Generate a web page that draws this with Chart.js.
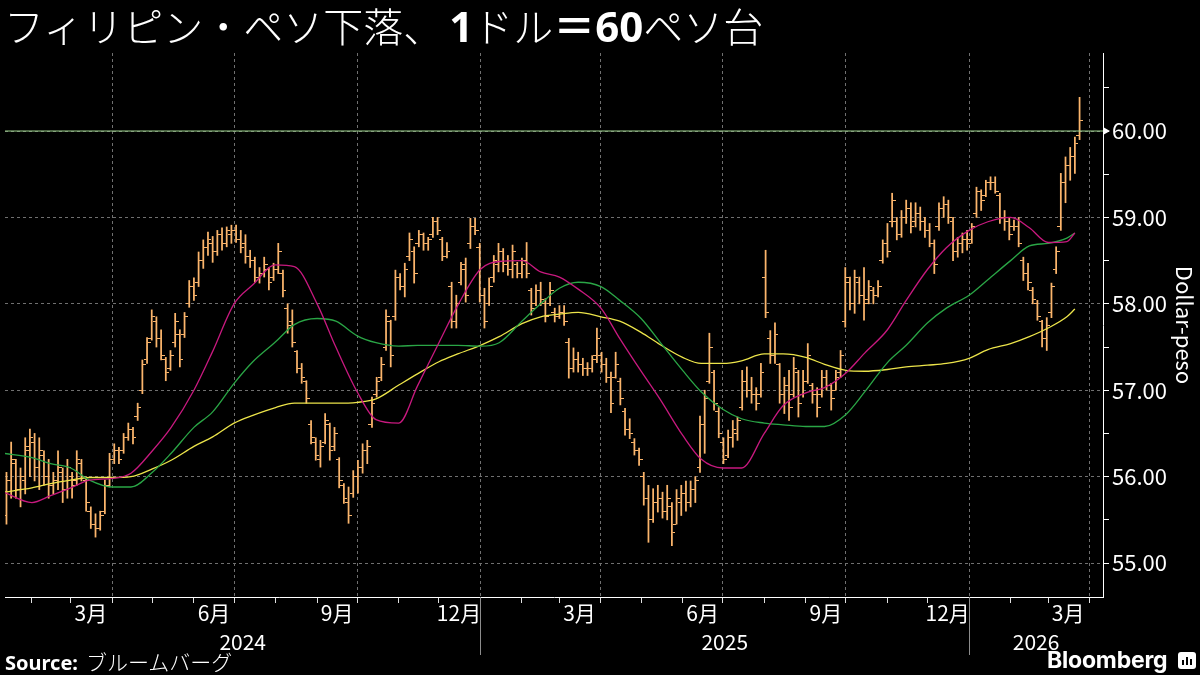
<!DOCTYPE html>
<html>
<head>
<meta charset="utf-8">
<script src="https://cdn.jsdelivr.net/npm/chart.js@4.4.1/dist/chart.umd.min.js"></script>
<style>
  html, body { margin: 0; padding: 0; background: #000; }
  #wrap { position: relative; width: 1200px; height: 675px; overflow: hidden; background: #000; }
  #chart { position: absolute; left: 0; top: 0; }
  .title { position: absolute; left: 4px; top: 3px; color: #fff; font-family: "Noto Sans CJK JP"; font-weight: 300;
           font-size: 40px; line-height: 44px; white-space: nowrap; }
  .title b { font-family: "Noto Sans", "Noto Sans CJK JP"; font-weight: 700; font-size: 42px; }
  .title b.one { margin-left: 6px; }
  .source { position: absolute; left: 5px; top: 647px; color: #fff; font-family: "Noto Sans CJK JP"; font-weight: 300;
            font-size: 21px; line-height: 28px; white-space: nowrap; }
  .source b { font-family: "Noto Sans"; font-weight: 700; font-size: 20px; margin-right: 8px; }
  .brand { position: absolute; left: 1047px; top: 645px; color: #fff; font-family: Inter, "Noto Sans"; font-weight: 700;
           font-size: 23px; line-height: 30px; letter-spacing: -0.2px; }
  .icon { position: absolute; left: 1178px; top: 652px; width: 18px; height: 17px; background: #fff; border-radius: 3px; }
  .icon i { position: absolute; bottom: 4px; width: 2px; background: #000; }
</style>
</head>
<body>
<div id="wrap">
  <canvas id="chart" width="1200" height="675"></canvas>
  <div class="title">フィリピン・ペソ下落、<b class="one">1</b>ドル<b>＝60</b>ペソ台</div>
  <div class="source"><b>Source:</b>ブルームバーグ</div>
  <div class="brand">Bloomberg</div>
  <div class="icon"><i style="left:4px;height:5px"></i><i style="left:8px;height:8px"></i><i style="left:12px;height:6px"></i></div>
</div>
<script>
// USD/PHP, two bars a week, days counted from 2024-01-01
const firstBarDay = 12;
const barStepDays = 3.5;

const barOpen = [
  55.55, 55.95, 56.15, 55.85, 55.95, 56.3, 56.4, 56.1, 56.25, 56.0,
  55.9, 55.95, 56.05, 55.85, 56.0, 55.95, 56.15, 55.95, 55.6, 55.45,
  55.4, 55.6, 55.9, 56.2, 56.3, 56.3, 56.45, 56.55, 56.7, 57.0,
  57.35, 57.6, 57.8, 57.6, 57.35, 57.25, 57.55, 57.65, 57.65, 58.0,
  58.2, 58.25, 58.5, 58.65, 58.7, 58.6, 58.8, 58.7, 58.8, 58.85,
  58.75, 58.7, 58.55, 58.5, 58.3, 58.35, 58.4, 58.3, 58.4, 58.35,
  57.95, 57.8, 57.45, 57.25, 57.1, 56.6, 56.4, 56.2, 56.4, 56.6,
  56.35, 56.2, 55.9, 55.7, 55.8, 56.0, 56.1, 56.3, 56.6, 56.95,
  57.15, 57.5, 57.8, 57.85, 58.3, 58.2, 58.55, 58.6, 58.7, 58.8,
  58.7, 58.8, 58.95, 58.75, 58.55, 58.2, 57.8, 58.25, 58.45, 58.7,
  58.9, 58.65, 58.1, 58.0, 58.3, 58.45, 58.6, 58.45, 58.4, 58.45,
  58.35, 58.5, 58.15, 58.0, 58.15, 58.0, 58.0, 57.9, 57.85, 57.9,
  57.55, 57.25, 57.35, 57.3, 57.25, 57.25, 57.4, 57.4, 57.3, 57.15,
  57.15, 57.1, 56.75, 56.55, 56.4, 56.3, 56.0, 55.75, 55.5, 55.7,
  55.75, 55.6, 55.65, 55.45, 55.7, 55.8, 55.7, 55.85, 56.1, 56.6,
  57.1, 57.2, 56.75, 56.4, 56.25, 56.45, 56.5, 56.8, 57.1, 57.0,
  56.95, 56.95, 58.3, 57.6, 57.4, 57.3, 56.95, 57.05, 56.95, 57.2,
  56.95, 57.1, 57.05, 56.95, 56.95, 57.15, 57.05, 57.0, 57.2, 57.8,
  58.25, 58.0, 58.25, 58.1, 58.05, 58.15, 58.1, 58.5, 58.7, 58.95,
  58.95, 58.8, 59.0, 59.1, 58.95, 59.05, 58.95, 58.85, 58.7, 58.9,
  59.1, 59.15, 58.95, 58.6, 58.7, 58.75, 58.75, 59.05, 59.3, 59.25,
  59.4, 59.4, 59.25, 59.0, 58.95, 58.9, 58.9, 58.5, 58.35, 58.15,
  58.0, 57.8, 57.6, 57.9, 58.4, 58.9, 59.4, 59.6, 59.7, 59.95
];
const barHigh = [
  56.05, 56.4, 56.2, 56.1, 56.45, 56.55, 56.5, 56.45, 56.3, 56.2,
  56.05, 56.3, 56.1, 56.2, 56.05, 56.3, 56.2, 56.0, 55.65, 55.57,
  55.6, 55.96, 56.27, 56.38, 56.34, 56.5, 56.62, 56.57, 56.85, 57.35,
  57.61, 57.93, 57.85, 57.7, 57.38, 57.46, 57.89, 57.7, 57.9, 58.27,
  58.3, 58.6, 58.74, 58.83, 58.78, 58.85, 58.88, 58.89, 58.91, 58.91,
  58.85, 58.8, 58.62, 58.54, 58.42, 58.54, 58.42, 58.47, 58.7, 58.39,
  58.0, 57.93, 57.46, 57.31, 57.11, 56.65, 56.45, 56.42, 56.73, 56.62,
  56.57, 56.22, 55.92, 55.88, 56.07, 56.19, 56.38, 56.42, 56.92, 57.15,
  57.38, 57.93, 57.81, 58.39, 58.35, 58.47, 58.82, 58.66, 58.85, 58.82,
  58.77, 59.0, 59.0, 58.77, 58.71, 58.25, 58.1, 58.48, 58.53, 58.99,
  58.99, 58.7, 58.18, 58.3, 58.56, 58.7, 58.64, 58.56, 58.68, 58.48,
  58.53, 58.71, 58.18, 58.22, 58.25, 58.06, 58.25, 57.95, 57.98, 57.98,
  57.6, 57.49, 57.44, 57.37, 57.32, 57.4, 57.72, 57.44, 57.37, 57.21,
  57.44, 57.14, 56.79, 56.67, 56.44, 56.33, 56.05, 55.9, 55.86, 55.9,
  55.82, 55.9, 55.7, 55.85, 55.9, 55.95, 55.95, 56.0, 56.7, 57.0,
  57.66, 57.23, 56.8, 56.45, 56.54, 56.65, 56.69, 57.23, 57.27, 57.15,
  57.03, 57.31, 58.62, 57.69, 57.78, 57.31, 57.15, 57.23, 57.38, 57.23,
  57.23, 57.54, 57.08, 57.03, 57.23, 57.23, 57.08, 57.23, 57.46, 58.42,
  58.31, 58.39, 58.31, 58.42, 58.27, 58.19, 58.27, 58.74, 58.93, 59.28,
  59.0, 59.08, 59.2, 59.17, 59.17, 59.12, 59.0, 58.93, 58.74, 59.17,
  59.24, 59.2, 59.0, 58.77, 58.82, 58.85, 58.93, 59.35, 59.32, 59.43,
  59.47, 59.47, 59.28, 59.08, 59.0, 58.97, 59.0, 58.54, 58.47, 58.19,
  58.04, 57.81, 57.84, 58.24, 58.66, 59.51, 59.7, 59.81, 59.93, 60.39
];
const barLow = [
  55.45, 55.75, 55.75, 55.65, 55.8, 56.0, 55.95, 55.85, 55.9, 55.75,
  55.8, 55.85, 55.7, 55.75, 55.75, 55.9, 55.95, 55.6, 55.4, 55.3,
  55.38, 55.57, 55.88, 56.15, 56.15, 56.27, 56.42, 56.38, 56.65, 56.96,
  57.31, 57.58, 57.5, 57.35, 57.11, 57.23, 57.5, 57.27, 57.61, 57.96,
  58.04, 58.2, 58.41, 58.56, 58.48, 58.56, 58.62, 58.66, 58.7, 58.71,
  58.59, 58.47, 58.42, 58.25, 58.24, 58.31, 58.16, 58.27, 58.35, 58.08,
  57.66, 57.5, 57.2, 57.08, 56.85, 56.38, 56.19, 56.11, 56.38, 56.19,
  56.3, 55.87, 55.69, 55.46, 55.76, 55.81, 56.04, 56.15, 56.57, 56.92,
  57.11, 57.46, 57.27, 57.81, 58.16, 58.08, 58.5, 58.24, 58.66, 58.62,
  58.62, 58.77, 58.8, 58.5, 58.53, 57.72, 57.72, 58.22, 58.02, 58.64,
  58.8, 58.02, 57.72, 57.98, 58.25, 58.37, 58.37, 58.33, 58.3, 58.3,
  58.3, 58.3, 57.87, 57.98, 57.98, 57.79, 57.98, 57.79, 57.83, 57.75,
  57.14, 57.21, 57.21, 57.17, 57.17, 57.21, 57.32, 57.21, 57.09, 56.74,
  57.14, 56.83, 56.48, 56.44, 56.25, 56.13, 55.67, 55.24, 55.47, 55.59,
  55.52, 55.5, 55.2, 55.45, 55.55, 55.6, 55.65, 55.7, 56.05, 56.27,
  57.08, 56.77, 56.45, 56.15, 56.22, 56.34, 56.42, 56.77, 56.92, 56.85,
  56.77, 56.92, 57.84, 57.31, 57.31, 56.85, 56.73, 56.65, 56.92, 56.69,
  56.92, 57.08, 56.85, 56.69, 56.92, 57.0, 56.77, 57.0, 57.15, 57.73,
  57.93, 57.89, 58.0, 57.81, 58.0, 58.0, 58.08, 58.47, 58.54, 58.89,
  58.74, 58.77, 58.93, 58.82, 58.89, 58.85, 58.77, 58.66, 58.35, 58.85,
  59.0, 58.93, 58.5, 58.54, 58.59, 58.62, 58.7, 59.0, 59.08, 59.24,
  59.32, 59.28, 58.93, 58.85, 58.74, 58.85, 58.66, 58.27, 58.16, 58.0,
  57.81, 57.5, 57.46, 57.84, 58.35, 58.85, 59.17, 59.43, 59.51, 59.9
];
const barClose = [
  55.95, 56.2, 55.85, 56.0, 56.35, 56.45, 56.1, 56.3, 56.0, 55.9,
  55.95, 56.1, 55.85, 56.1, 55.9, 56.2, 56.0, 55.7, 55.45, 55.4,
  55.55, 55.9, 56.2, 56.3, 56.2, 56.45, 56.55, 56.45, 56.8, 57.3,
  57.55, 57.85, 57.6, 57.4, 57.2, 57.4, 57.8, 57.35, 57.85, 58.2,
  58.1, 58.5, 58.65, 58.75, 58.6, 58.8, 58.7, 58.85, 58.85, 58.75,
  58.65, 58.55, 58.5, 58.3, 58.35, 58.45, 58.25, 58.4, 58.6, 58.15,
  57.75, 57.55, 57.25, 57.15, 56.9, 56.45, 56.25, 56.35, 56.65, 56.3,
  56.5, 55.95, 55.75, 55.55, 56.0, 56.1, 56.3, 56.35, 56.85, 57.1,
  57.3, 57.85, 57.4, 58.3, 58.2, 58.4, 58.75, 58.35, 58.8, 58.7,
  58.75, 58.95, 58.85, 58.55, 58.6, 57.8, 58.0, 58.4, 58.1, 58.9,
  58.85, 58.1, 57.8, 58.2, 58.5, 58.6, 58.45, 58.4, 58.6, 58.35,
  58.45, 58.35, 57.95, 58.15, 58.05, 57.85, 58.15, 57.85, 57.9, 57.8,
  57.25, 57.35, 57.3, 57.25, 57.25, 57.35, 57.6, 57.3, 57.15, 56.85,
  57.3, 56.9, 56.55, 56.5, 56.3, 56.2, 55.75, 55.5, 55.7, 55.75,
  55.6, 55.75, 55.35, 55.75, 55.8, 55.7, 55.85, 55.95, 56.6, 56.9,
  57.5, 56.85, 56.5, 56.2, 56.45, 56.55, 56.65, 57.1, 57.0, 56.95,
  56.85, 57.2, 57.9, 57.4, 57.65, 56.95, 57.05, 56.8, 57.25, 56.85,
  57.1, 57.4, 56.95, 56.8, 57.15, 57.05, 56.9, 57.15, 57.4, 58.3,
  58.0, 58.3, 58.1, 58.0, 58.2, 58.1, 58.2, 58.7, 58.6, 59.2,
  58.8, 59.0, 59.1, 58.9, 59.05, 58.95, 58.85, 58.7, 58.45, 59.1,
  59.15, 59.0, 58.6, 58.7, 58.75, 58.7, 58.9, 59.3, 59.2, 59.4,
  59.4, 59.3, 59.0, 58.95, 58.8, 58.9, 58.7, 58.35, 58.25, 58.05,
  57.85, 57.6, 57.75, 58.2, 58.6, 59.4, 59.6, 59.7, 59.85, 60.12
];

// moving averages
const maDates = [
  '2024-01-11', '2024-02-01', '2024-02-15', '2024-03-01', '2024-03-15', '2024-04-01', '2024-04-15', '2024-05-01',
  '2024-05-15', '2024-06-01', '2024-06-15', '2024-07-01', '2024-07-15', '2024-08-01', '2024-08-15', '2024-09-01',
  '2024-09-15', '2024-10-01', '2024-10-15', '2024-11-01', '2024-11-15', '2024-12-01', '2024-12-15',
  '2025-01-01', '2025-01-15', '2025-02-01', '2025-02-15', '2025-03-01', '2025-03-15', '2025-04-01', '2025-04-15',
  '2025-05-01', '2025-05-15', '2025-06-01', '2025-06-15', '2025-07-01', '2025-07-15', '2025-08-01', '2025-08-15',
  '2025-09-01', '2025-09-15', '2025-10-01', '2025-10-15', '2025-11-01', '2025-11-15', '2025-12-01', '2025-12-15',
  '2026-01-01', '2026-01-15', '2026-02-01', '2026-02-15', '2026-03-01', '2026-03-15', '2026-03-21'
];
const maPink = [
  55.82, 55.7, 55.78, 55.87, 55.96, 55.98, 56.04, 56.3, 56.57, 57.0, 57.45, 58.0, 58.22, 58.45, 58.43, 58.0,
  57.5, 56.98, 56.66, 56.62, 57.05, 57.55, 57.98,
  58.4, 58.49, 58.5, 58.37, 58.31, 58.17, 57.95, 57.6, 57.22, 56.9, 56.48, 56.2, 56.1, 56.1, 56.5, 56.82,
  56.97, 57.03, 57.2, 57.43, 57.7, 58.04, 58.4, 58.65,
  58.85, 58.95, 59.0, 58.88, 58.71, 58.72, 58.82
];
const maGreen = [
  56.27, 56.22, 56.15, 56.1, 55.96, 55.88, 55.88, 56.05, 56.27, 56.57, 56.75, 57.08, 57.33, 57.56, 57.76, 57.83,
  57.8, 57.63, 57.55, 57.51, 57.52, 57.52, 57.52,
  57.51, 57.55, 57.8, 58.0, 58.18, 58.25, 58.2, 58.04, 57.83, 57.56, 57.23, 56.98, 56.78, 56.67, 56.62, 56.6,
  56.58, 56.58, 56.72, 56.98, 57.32, 57.52, 57.78, 57.95,
  58.1, 58.28, 58.5, 58.67, 58.7, 58.76, 58.82
];
const maYellow = [
  55.82, 55.87, 55.92, 55.96, 55.99, 55.99, 56.0, 56.09, 56.19, 56.35, 56.46, 56.62, 56.71, 56.8, 56.85, 56.85,
  56.85, 56.86, 56.9, 57.06, 57.19, 57.33, 57.42,
  57.52, 57.62, 57.77, 57.85, 57.88, 57.9, 57.85, 57.8, 57.67, 57.53, 57.38, 57.31, 57.31, 57.34, 57.42, 57.42,
  57.38, 57.3, 57.23, 57.22, 57.24, 57.27, 57.29, 57.31,
  57.37, 57.47, 57.54, 57.62, 57.72, 57.85, 57.94
];
const refLevel = 60;

// axis labels
const yTicks = [55, 55.5, 56, 56.5, 57, 57.5, 58, 58.5, 59, 59.5, 60, 60.5];
const monthLabelDates = ['2024-03-16', '2024-06-16', '2024-09-16', '2024-12-16', '2025-03-16',
                         '2025-06-16', '2025-09-16', '2025-12-16', '2026-03-16'];
const monthLabels = ['3月', '6月', '9月', '12月', '3月', '6月', '9月', '12月', '3月'];
const years = ['2024', '2025', '2026'];

const xMinDay = 10.9, xMaxDay = 831;
const yMin = 54.607, yMax = 60.903;

const barColor = '#fbb56c';
const gridColor = '#707070';
const hidden = 'rgba(0,0,0,0)';
const font = 'Noto Sans CJK JP';

function dayOf(s) {
  const [y, m, d] = s.split('-').map(Number);
  return (Date.UTC(y, m - 1, d) - Date.UTC(2024, 0, 1)) / 86400000;
}

const barDays = barHigh.map((_, i) => firstBarDay + barStepDays * i);
const maDays = maDates.map(dayOf);

// month starts for tick marks, quarter starts get a grid line
const monthStarts = [], quarterStarts = new Set();
for (let y = 2024; y <= 2026; y++) {
  for (let m = 1; m <= 12; m++) {
    const d = dayOf(y + '-' + String(m).padStart(2, '0') + '-01');
    if (d < xMinDay || d > xMaxDay) continue;
    monthStarts.push(d);
    if (m % 3 === 1) quarterStarts.add(d);
  }
}
const monthStartSet = new Set(monthStarts);
const labelByDay = new Map(monthLabelDates.map((s, i) => [dayOf(s), monthLabels[i]]));
const xTickDays = monthStarts.concat([...labelByDay.keys()]).sort((a, b) => a - b);

const yearCenters = years.map(y => {
  const a = Math.max(dayOf(y + '-01-01'), xMinDay);
  const b = Math.min(dayOf((+y + 1) + '-01-01'), xMaxDay);
  return (a + b) / 2;
});

function tickMark(side) {
  const c = document.createElement('canvas');
  c.width = 7; c.height = 1;
  const g = c.getContext('2d');
  g.fillStyle = barColor;
  g.fillRect(side < 0 ? 0 : 4, 0, 3, 1);
  return c;
}

const decor = {
  id: 'decor',
  afterDraw(chart) {
    const { ctx, chartArea, scales: { x, y } } = chart;
    ctx.save();
    ctx.strokeStyle = '#8c8c8c';
    ctx.lineWidth = 1;
    ['2025-01-01', '2026-01-01'].forEach(s => {
      const px = Math.round(x.getPixelForValue(dayOf(s))) + 0.5;
      ctx.beginPath();
      ctx.moveTo(px, chartArea.bottom);
      ctx.lineTo(px, chartArea.bottom + 58);
      ctx.stroke();
    });
    const py = y.getPixelForValue(refLevel);
    ctx.fillStyle = '#fff';
    ctx.beginPath();
    ctx.moveTo(chartArea.right, py - 4);
    ctx.lineTo(chartArea.right + 7, py);
    ctx.lineTo(chartArea.right, py + 4);
    ctx.closePath();
    ctx.fill();
    ctx.restore();
  }
};

const maLine = (vals, color, order) => ({
  type: 'line',
  data: maDays.map((d, i) => ({ x: d, y: vals[i] })),
  borderColor: color, borderWidth: 1.3, pointRadius: 0,
  cubicInterpolationMode: 'monotone', order
});

new Chart(document.getElementById('chart'), {
  type: 'bar',
  data: {
    datasets: [
      { type: 'line', data: [{ x: xMinDay, y: refLevel }, { x: xMaxDay, y: refLevel }],
        borderColor: '#9fd68f', borderWidth: 1, pointRadius: 0, order: 0 },
      maLine(maPink, '#c8197f', 1),
      maLine(maGreen, '#2aa646', 2),
      maLine(maYellow, '#ece44a', 3),
      { type: 'scatter', data: barDays.map((d, i) => ({ x: d, y: barOpen[i] })),
        pointStyle: tickMark(-1), pointRadius: 3, order: 4 },
      { type: 'scatter', data: barDays.map((d, i) => ({ x: d, y: barClose[i] })),
        pointStyle: tickMark(1), pointRadius: 3, order: 4 },
      { type: 'bar', data: barDays.map((d, i) => ({ x: d, y: [barLow[i], barHigh[i]] })),
        backgroundColor: barColor, barThickness: 1.1, grouped: false, order: 5 }
    ]
  },
  options: {
    responsive: false,
    devicePixelRatio: 1,
    animation: false,
    events: [],
    layout: { padding: { left: 0, right: 0, top: 53, bottom: 15 } },
    plugins: { legend: { display: false }, tooltip: { enabled: false } },
    scales: {
      x: {
        type: 'linear', position: 'bottom', min: xMinDay, max: xMaxDay, offset: false, weight: 0,
        afterBuildTicks: s => { s.ticks = xTickDays.map(v => ({ value: v })); },
        afterFit: s => { s.height = 32; },
        grid: {
          offset: false,
          color: c => (c.tick && quarterStarts.has(c.tick.value)) ? gridColor : hidden,
          tickColor: c => (c.tick && monthStartSet.has(c.tick.value)) ? '#e0e0e0' : hidden,
          tickLength: 6, lineWidth: 1
        },
        border: { color: '#fff', width: 1, dash: [3, 3] },
        ticks: {
          autoSkip: false, maxRotation: 0, padding: 0, color: '#fff',
          font: { family: font, size: 21, lineHeight: 1 },
          callback: v => labelByDay.get(v) || ''
        }
      },
      xy: {
        type: 'linear', axis: 'x', position: 'bottom', min: xMinDay, max: xMaxDay, offset: false, weight: 1,
        afterBuildTicks: s => { s.ticks = yearCenters.map(v => ({ value: v })); },
        afterFit: s => { s.height = 31; },
        grid: { display: false, drawTicks: false },
        border: { display: false },
        ticks: {
          autoSkip: false, maxRotation: 0, padding: 3, color: '#fff',
          font: { family: font, size: 21, lineHeight: 1 },
          callback: (v, i) => years[i]
        }
      },
      y: {
        type: 'linear', position: 'right', min: yMin, max: yMax,
        afterBuildTicks: s => { s.ticks = yTicks.map(v => ({ value: v })); },
        afterFit: s => { s.width = 97; },
        grid: {
          color: c => (c.tick && Number.isInteger(c.tick.value)) ? gridColor : hidden,
          tickColor: '#fff', tickLength: 6, lineWidth: 1
        },
        border: { color: '#fff', width: 1, dash: [3, 3] },
        ticks: {
          padding: 3, color: '#fff', font: { family: font, size: 22 },
          callback: v => Number.isInteger(v) ? v.toFixed(2) : ''
        },
        title: {
          display: true, text: 'Dollar-peso', color: '#fff',
          font: { family: font, size: 22 }, padding: { top: 2, bottom: 0 }
        }
      }
    }
  },
  plugins: [decor]
});
</script>
</body>
</html>
